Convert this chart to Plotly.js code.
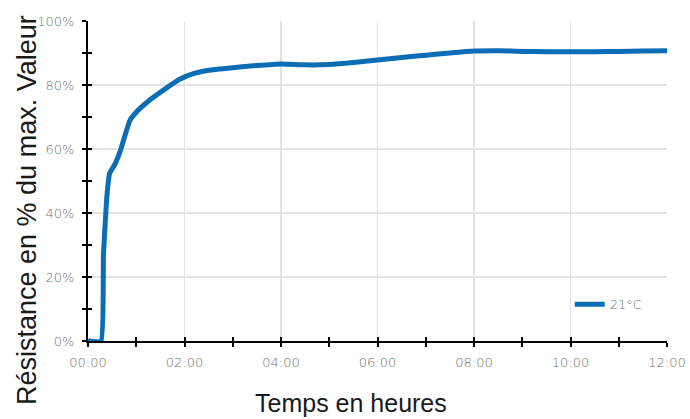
<!DOCTYPE html>
<html><head><meta charset="utf-8">
<script src="https://cdn.plot.ly/plotly-3.0.1.min.js"></script>
<style>body{margin:0;padding:0;background:#fff}#c{width:690px;height:419px}</style>
</head><body><div id="c"></div>
<script>
const hours = [0, 0.27, 0.32, 0.39, 0.45, 0.55, 0.66, 0.87, 1.0, 1.28, 1.6, 1.9, 2.2, 2.5, 3.0, 3.5, 4.0, 4.5, 5.0, 5.5, 6.0, 6.5, 7.0, 7.5, 8.0, 8.5, 9.0, 9.5, 10.0, 10.5, 11.0, 11.5, 12.0];
const resistance = [0, 0, 27, 45, 52.5, 55, 59, 69, 71.5, 75.3, 78.8, 81.8, 83.6, 84.6, 85.4, 86.1, 86.6, 86.3, 86.4, 87.0, 87.8, 88.6, 89.3, 90.0, 90.6, 90.7, 90.5, 90.4, 90.4, 90.4, 90.5, 90.6, 90.7];
const seriesName = "21°C";
const xMajorVals = [0,2,4,6,8,10,12];
const xMajorText = ["00:00","02:00","04:00","06:00","08:00","10:00","12:00"];
const xMinorVals = [1,3,5,7,9,11];
const xAllVals = [0,1,2,3,4,5,6,7,8,9,10,11,12];
const yMajorVals = [0,20,40,60,80,100];
const yMajorText = ["0%","20%","40%","60%","80%","100%"];
const yMinorVals = [10,30,50,70,90];
const yAllVals = [0,10,20,30,40,50,60,70,80,90,100];
const xTitle = "Temps en heures";
const yTitle = "Résistance en % du max. Valeur";

const tickFont = {family: "DejaVu Sans, sans-serif", size: 13, color: "#707070", weight: 200};
const titleFont = {family: "Liberation Sans, Arial, sans-serif", size: 25, color: "#1a1a1a"};
const tickStyle = {ticklen: 4, tickwidth: 2, tickcolor: "#000"};
const data = [
  {x: hours, y: resistance, name: seriesName, type: "scatter", mode: "lines",
   line: {color: "#0b6db3", width: 5, shape: "spline", smoothing: 0.35}},
  {x: [], y: [], xaxis: "x2", yaxis: "y2", showlegend: false, hoverinfo: "skip"}
];
const layout = {
  width: 690, height: 419,
  margin: {l: 88, r: 23, t: 21, b: 78},
  paper_bgcolor: "#fff", plot_bgcolor: "#fff",
  showlegend: true,
  legend: {x: 0.832, y: 0.115, xanchor: "left", yanchor: "middle", bgcolor: "rgba(0,0,0,0)",
           font: {family: "DejaVu Sans, sans-serif", size: 13, color: "#707070", weight: 200}},
  xaxis: Object.assign({range: [0, 12], tickmode: "array", tickvals: xMajorVals, ticktext: xMajorText, ticks: "outside",
          showline: true, linecolor: "#000", linewidth: 2, ticklabelstandoff: 4,
          showgrid: true, gridcolor: "#e2e2e2", gridwidth: 1.3, zeroline: false, tickfont: tickFont,
          minor: Object.assign({tickvals: xMinorVals, ticks: "outside", showgrid: false}, tickStyle)}, tickStyle),
  yaxis: Object.assign({range: [0, 100], tickmode: "array", tickvals: yMajorVals, ticktext: yMajorText, ticks: "outside",
          showline: true, linecolor: "#000", linewidth: 2, ticklabelstandoff: 5,
          showgrid: true, gridcolor: "#e2e2e2", gridwidth: 1.3, zeroline: false, tickfont: tickFont,
          minor: Object.assign({tickvals: yMinorVals, ticks: "outside", showgrid: false}, tickStyle)}, tickStyle),
  xaxis2: Object.assign({overlaying: "x", range: [0, 12], tickmode: "array", tickvals: xAllVals, ticks: "inside",
           showticklabels: false, showline: false, zeroline: false, showgrid: false}, tickStyle),
  yaxis2: Object.assign({overlaying: "y", range: [0, 100], tickmode: "array", tickvals: yAllVals, ticks: "inside",
           showticklabels: false, showline: false, zeroline: false, showgrid: false}, tickStyle),
  annotations: [
    {text: xTitle, xref: "paper", yref: "paper", x: 0.454, y: -0.193, xanchor: "center", yanchor: "middle",
     showarrow: false, font: titleFont},
    {text: yTitle, xref: "paper", yref: "paper", x: -0.105, y: 0.41, xanchor: "center", yanchor: "middle",
     textangle: -90, showarrow: false, font: Object.assign({}, titleFont, {size: 27})}
  ]
};
Plotly.newPlot("c", data, layout, {staticPlot: true, displayModeBar: false});
</script></body></html>
